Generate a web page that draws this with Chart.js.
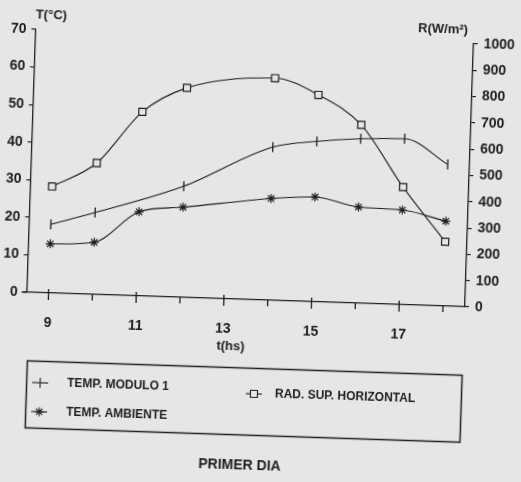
<!DOCTYPE html>
<html><head><meta charset="utf-8">
<script src="https://cdn.jsdelivr.net/npm/chart.js@4.4.0/dist/chart.umd.min.js"></script>
<style>
html,body{margin:0;padding:0;background:#e6e6e4;overflow:hidden;width:521px;height:482px}
#wrap{position:absolute;left:0;top:0;width:521px;height:482px;transform:rotate(1.9deg);transform-origin:260.5px 241px}
canvas{display:block}
</style></head><body>
<div id="wrap"><canvas id="c" width="521" height="482"></canvas></div>
<script>
// ---- data ----
const hours = [9, 10, 11, 12, 14, 15, 16, 17, 18];
const tempModulo = [18.3, 21.8, null, 29.6, 40.8, 42.7, 43.8, 44.2, 37.7];
const tempAmbiente = [13.1, 13.9, 22.4, 24.0, 27.1, 27.9, 25.6, 25.2, 22.6];
const radiacion = [405, 500, 700, 797, 845, 787, 678, 447, 245];
const xTickHours = [9, 10, 11, 12, 13, 14, 15, 16, 17, 18];
const xLabeledHours = [9, 11, 13, 15, 17];
const seriesNames = ['TEMP. MODULO 1', 'TEMP. AMBIENTE', 'RAD. SUP. HORIZONTAL'];
const leftTitle = 'T(°C)';
const rightTitle = 'R(W/m²)';
const xTitle = 't(hs)';
const caption = 'PRIMER DIA';

const INK = '#1e1e1e';
const BG = '#e6e6e4';
const FONT = "'Liberation Sans', Arial, 'DejaVu Sans', sans-serif";
const toXY = arr => hours.map((h, i) => ({x: h, y: arr[i]}));

const decor = {
  id: 'decor',
  afterDraw(chart) {
    const {ctx, chartArea: a, scales: {x}} = chart;
    ctx.save();
    ctx.strokeStyle = INK; ctx.fillStyle = INK; ctx.lineWidth = 1.3;
    // small extension of the x axis to the left of the T axis
    ctx.beginPath(); ctx.moveTo(a.left - 5, a.bottom); ctx.lineTo(a.left, a.bottom); ctx.stroke();
    // x ticks crossing the axis (major) / below (minor)
    x.ticks.forEach(t => {
      const px = x.getPixelForValue(t.value);
      const major = xLabeledHours.includes(t.value);
      ctx.beginPath();
      ctx.moveTo(px, a.bottom - (major ? 4 : 0));
      ctx.lineTo(px, a.bottom + (major ? 7 : 6));
      ctx.stroke();
    });
    // axis titles
    ctx.textAlign = 'center'; ctx.textBaseline = 'middle';
    ctx.font = `bold 13px ${FONT}`;
    ctx.fillText(leftTitle, 44, 22);
    ctx.fillText(rightTitle, 436, 23);
    ctx.fillText(xTitle, 234, 347);
    // legend box
    ctx.lineWidth = 1.5;
    ctx.strokeRect(31.5, 368.5, 435, 67);
    ctx.lineWidth = 1.1;
    const marker = (cx, cy, kind) => {
      ctx.beginPath(); ctx.moveTo(cx - 8, cy); ctx.lineTo(cx + 8, cy); ctx.stroke();
      ctx.beginPath();
      if (kind === 'line') { ctx.moveTo(cx, cy - 5); ctx.lineTo(cx, cy + 5); ctx.stroke(); }
      else if (kind === 'star') {
        for (let k = 0; k < 4; k++) {
          const ang = k * Math.PI / 4;
          ctx.moveTo(cx - 4.5 * Math.sin(ang), cy - 4.5 * Math.cos(ang));
          ctx.lineTo(cx + 4.5 * Math.sin(ang), cy + 4.5 * Math.cos(ang));
        }
        ctx.stroke();
      } else {
        ctx.fillStyle = BG; ctx.rect(cx - 3.5, cy - 3.5, 7, 7); ctx.fill(); ctx.stroke(); ctx.fillStyle = INK;
      }
    };
    marker(45, 390, 'line');
    marker(45, 419, 'star');
    marker(259, 394, 'rect');
    ctx.font = `bold 12px ${FONT}`;
    ctx.textAlign = 'left';
    ctx.fillText(seriesNames[0], 72, 390);
    ctx.fillText(seriesNames[1], 72, 419);
    ctx.fillText(seriesNames[2], 280, 394);
    ctx.textAlign = 'center';
    ctx.font = `bold 14px ${FONT}`;
    ctx.fillText(caption, 247, 466);
    ctx.restore();
  }
};

const tickFont = {family: FONT, size: 14, weight: 'bold'};
new Chart(document.getElementById('c'), {
  type: 'line',
  data: {
    datasets: [
      {label: seriesNames[0], data: toXY(tempModulo), yAxisID: 'y', borderColor: INK, borderWidth: 1.1,
       pointStyle: 'line', rotation: 90, pointRadius: 5, pointBorderWidth: 1.3, pointBorderColor: INK,
       cubicInterpolationMode: 'monotone', spanGaps: true, fill: false},
      {label: seriesNames[1], data: toXY(tempAmbiente), yAxisID: 'y', borderColor: INK, borderWidth: 1.1,
       pointStyle: 'star', pointRadius: 4.5, pointBorderWidth: 1.2, pointBorderColor: INK,
       cubicInterpolationMode: 'monotone', fill: false},
      {label: seriesNames[2], data: toXY(radiacion), yAxisID: 'y2', borderColor: INK, borderWidth: 1.1,
       pointStyle: 'rect', pointRadius: 5, pointBorderWidth: 1.2, pointBorderColor: INK, pointBackgroundColor: BG,
       cubicInterpolationMode: 'monotone', fill: false}
    ]
  },
  options: {
    responsive: false, animation: false, devicePixelRatio: 1,
    layout: {padding: {left: 0, right: 0, top: 37, bottom: 0}},
    plugins: {legend: {display: false}, tooltip: {enabled: false}},
    scales: {
      x: {type: 'linear', min: 8.5, max: 18.5,
          afterBuildTicks(s) { s.ticks = xTickHours.map(v => ({value: v})); },
          afterFit(s) { s.height = 182; },
          grid: {drawOnChartArea: false, drawTicks: false},
          border: {display: true, color: INK, width: 1.3},
          ticks: {autoSkip: false, padding: 22, color: INK, font: tickFont, maxRotation: 0,
                  callback: (v) => xLabeledHours.includes(v) ? String(v) : ''}},
      y: {position: 'left', min: 0, max: 70,
          afterFit(s) { s.width = 28.5; },
          grid: {drawOnChartArea: false, tickLength: 4, color: INK, lineWidth: 1.2},
          border: {display: true, color: INK, width: 1.3},
          ticks: {stepSize: 10, padding: 5, color: INK, font: tickFont, callback: (v) => String(v)}},
      y2: {position: 'right', min: 0, max: 1000,
          afterFit(s) { s.width = 54; },
          grid: {drawOnChartArea: false, tickLength: 4, color: INK, lineWidth: 1.2},
          border: {display: true, color: INK, width: 1.3},
          ticks: {stepSize: 100, padding: 6, color: INK, font: tickFont, callback: (v) => String(v)}}
    }
  },
  plugins: [decor]
});
</script>
</body></html>
